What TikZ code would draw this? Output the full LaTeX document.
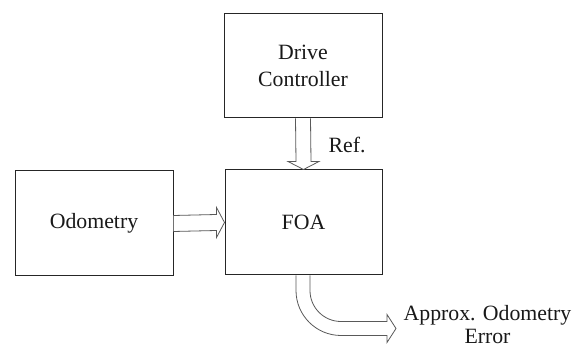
\documentclass[tikz,border=0pt]{standalone}
\usepackage{fontspec}
\setmainfont{Liberation Serif}
\usetikzlibrary{calc}
\begin{document}
\begin{tikzpicture}[x=1pt,y=1pt,
  blockbox/.style={draw=black!85,line width=1pt,fill=white,inner sep=0pt},
  lbl/.style={font=\fontsize{21.8}{23}\selectfont,text=black!90,align=center,inner sep=0pt},
  blockarrow/.style={draw=black!65,line width=0.8pt,fill=white,line join=miter}]
\useasboundingbox (0,0) rectangle (578,347);
\node[blockbox,minimum width=158pt,minimum height=104pt] (dc) at (303,281) {};
\node[lbl,font=\fontsize{21.8}{27}\selectfont] at (dc.center) {Drive\\Controller};
\node[blockbox,minimum width=158pt,minimum height=105pt] (odo) at (94,123.5) {};
\node[lbl] at (odo.center) {Odometry};
\node[blockbox,minimum width=157pt,minimum height=105pt] (foa) at (303.5,124.5) {};
\node[lbl] at (foa.center) {FOA};
\node[lbl] (ref) at (347,202) {Ref.};
\node[lbl,anchor=base] (err) at (487.5,3.5) {Approx. Odometry\\Error};
% Ref arrow
\draw[blockarrow] ($(dc.south)+(-7.5,0)$) -- ($(foa.north)+(-7.5,8)$) -- ($(foa.north)+(-15.5,8)$)
  -- (foa.north) -- ($(foa.north)+(15.5,8)$) -- ($(foa.north)+(7.5,8)$) -- ($(dc.south)+(7.5,0)$);
% Odometry arrow
\draw[blockarrow] ($(odo.east)+(0,8)$) -- ($(foa.west)+(-8,8)$) -- ($(foa.west)+(-8,15)$)
  -- (foa.west) -- ($(foa.west)+(-8,-15)$) -- ($(foa.west)+(-8,-8)$) -- ($(odo.east)+(0,-8)$);
% curved output arrow
\coordinate (tip) at ($(foa.south)+(92.5,-53)$);
\draw[blockarrow] ($(foa.south)+(6.5,0)$) -- ++(0,-15) arc[start angle=180,end angle=270,radius=31]
  -- ($(tip)+(-9,7)$) -- ($(tip)+(-9,14)$) -- (tip) -- ($(tip)+(-9,-14)$) -- ($(tip)+(-9,-7)$)
  -- ($(foa.south)+(37.5,-60)$) arc[start angle=270,end angle=180,radius=45] -- ($(foa.south)+(-7.5,0)$);
\end{tikzpicture}
\end{document}
